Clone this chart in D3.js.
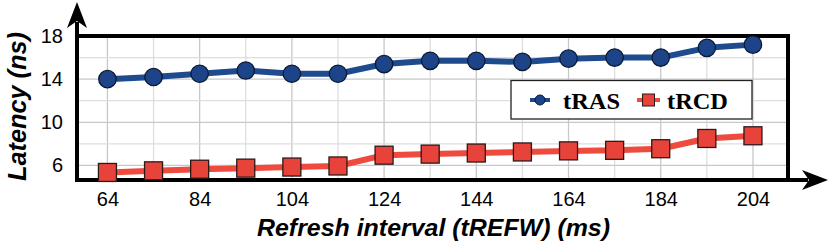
<!DOCTYPE html>
<html><head><meta charset="utf-8">
<script src="https://cdn.jsdelivr.net/npm/d3@7"></script>
<style>body{margin:0;background:#fff}svg{display:block}</style>
</head><body>
<svg id="c" width="830" height="246"></svg>
<script>
const intervals = [64,74,84,94,104,114,124,134,144,154,164,174,184,194,204];
const tRAS = [14.0,14.2,14.5,14.8,14.5,14.5,15.4,15.7,15.7,15.6,15.9,16.0,16.0,16.9,17.2];
const tRCD = [5.35,5.5,5.65,5.75,5.85,5.95,6.95,7.05,7.15,7.25,7.35,7.4,7.55,8.5,8.75];
const xTicks = [64,84,104,124,144,164,184,204];
const yTicks = [6,10,14,18];
const seriesNames = ["tRAS","tRCD"];

const svg = d3.select("#c");
const L = 77, R = 788, T = 36, B = 180;
const x = d3.scaleLinear().domain([57.4, 211.6]).range([L, R]);
const y = d3.scaleLinear().domain([4.65, 18]).range([B, T]);
const sans = "Liberation Sans, Arial, sans-serif";

// grid
const g = svg.append("g");
g.selectAll(".vg").data(intervals).join("line")
  .attr("x1", d=>x(d)).attr("x2", d=>x(d)).attr("y1", T).attr("y2", B)
  .attr("stroke", d => xTicks.includes(d) ? "#c8c8c8" : "#dedede").attr("stroke-width", 1.3);
g.selectAll(".hg").data(d3.range(6, 18, 2)).join("line")
  .attr("x1", L).attr("x2", R).attr("y1", d=>y(d)).attr("y2", d=>y(d))
  .attr("stroke", d => yTicks.includes(d) ? "#c8c8c8" : "#dedede").attr("stroke-width", 1.3);

// frame top and right
svg.append("line").attr("x1", L).attr("x2", R+2).attr("y1", T).attr("y2", T).attr("stroke","#000").attr("stroke-width",4);
svg.append("line").attr("x1", R).attr("x2", R).attr("y1", T).attr("y2", B).attr("stroke","#000").attr("stroke-width",4);

// axes with arrows
svg.append("line").attr("x1", L-2).attr("x2", 808).attr("y1", B).attr("y2", B).attr("stroke","#000").attr("stroke-width",4);
svg.append("path").attr("d",`M828,${B} L802,${B-10} L809,${B} L802,${B+10} Z`).attr("fill","#000");
svg.append("line").attr("x1", L).attr("x2", L).attr("y1", B+2).attr("y2", 22).attr("stroke","#000").attr("stroke-width",4);
svg.append("path").attr("d",`M${L},2 L${L-10},28 L${L},21 L${L+10},28 Z`).attr("fill","#000");

// tick labels via axes
const xa = d3.axisBottom(x).tickValues(xTicks).tickSize(0).tickPadding(12);
const xg = svg.append("g").attr("transform",`translate(0,${B})`).call(xa);
xg.select(".domain").remove();
xg.selectAll("text").attr("font-family",sans).attr("font-size",20).attr("fill","#000");
const ya = d3.axisLeft(y).tickValues(yTicks).tickSize(0).tickPadding(14);
const yg = svg.append("g").attr("transform",`translate(${L},0)`).call(ya);
yg.select(".domain").remove();
yg.selectAll("text").attr("font-family",sans).attr("font-size",20).attr("fill","#000");

// lines
const line = d3.line().x((d,i)=>x(intervals[i])).y(d=>y(d));
svg.append("path").datum(tRCD).attr("d", line).attr("fill","none").attr("stroke","#ef4a3e").attr("stroke-width",6).attr("stroke-linejoin","round");
svg.append("path").datum(tRAS).attr("d", line).attr("fill","none").attr("stroke","#1e4a8e").attr("stroke-width",6).attr("stroke-linejoin","round");

svg.selectAll(".sq").data(tRCD).join("rect")
  .attr("x",(d,i)=>x(intervals[i])-9).attr("y",d=>y(d)-9).attr("width",18).attr("height",18)
  .attr("fill","#e8433a").attr("stroke","#2a1a18").attr("stroke-width",1.3);
svg.selectAll(".ci").data(tRAS).join("circle")
  .attr("cx",(d,i)=>x(intervals[i])).attr("cy",d=>y(d)).attr("r",8.7)
  .attr("fill","#1d4488").attr("stroke","#0c1a33").attr("stroke-width",1.3);

// legend
const lg = svg.append("g");
lg.append("rect").attr("x",511).attr("y",80.5).attr("width",241).attr("height",38.5)
  .attr("fill","#fff").attr("stroke","#222").attr("stroke-width",1.3);
lg.append("line").attr("x1",530).attr("x2",550).attr("y1",100).attr("y2",100).attr("stroke","#1e4a8e").attr("stroke-width",4);
lg.append("circle").attr("cx",540).attr("cy",100).attr("r",5).attr("fill","#1d4488").attr("stroke","#0c1a33").attr("stroke-width",1);
lg.append("text").attr("x",563).attr("y",108.5).text(seriesNames[0]).attr("textLength",57).attr("lengthAdjust","spacingAndGlyphs")
  .attr("font-family","Liberation Serif, Times New Roman, serif").attr("font-weight","bold").attr("font-size",24);
lg.append("line").attr("x1",637).attr("x2",660).attr("y1",100).attr("y2",100).attr("stroke","#ef4a3e").attr("stroke-width",4);
lg.append("rect").attr("x",642.5).attr("y",94).attr("width",12).attr("height",12).attr("fill","#e8433a").attr("stroke","#2a1a18").attr("stroke-width",1);
lg.append("text").attr("x",667).attr("y",108.5).text(seriesNames[1]).attr("textLength",61).attr("lengthAdjust","spacingAndGlyphs")
  .attr("font-family","Liberation Serif, Times New Roman, serif").attr("font-weight","bold").attr("font-size",24);

// axis titles
svg.append("text").attr("x",257).attr("y",236)
  .attr("textLength",353).attr("lengthAdjust","spacingAndGlyphs")
  .attr("font-family",sans).attr("font-weight","bold").attr("font-style","italic").attr("font-size",23)
  .text("Refresh interval (tREFW) (ms)");
svg.append("text").attr("transform","translate(26,181) rotate(-90)")
  .attr("textLength",149).attr("lengthAdjust","spacingAndGlyphs")
  .attr("font-family",sans).attr("font-weight","bold").attr("font-style","italic").attr("font-size",25)
  .text("Latency (ns)");
</script>
</body></html>
